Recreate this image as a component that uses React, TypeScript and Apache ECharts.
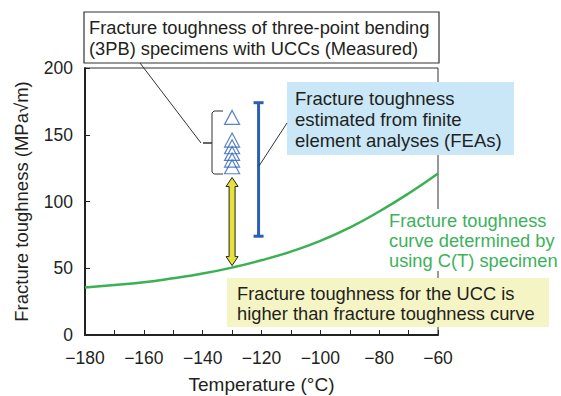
import React, { useEffect, useRef } from "react";
import * as echarts from "echarts";

// Fracture toughness curve (C(T) specimens)
const CURVE_T = [-180, -170, -160, -150, -140, -130, -120, -110, -100, -90, -80, -70, -60];
const CURVE_K = [35.5, 37.5, 39.5, 42.5, 46, 50.5, 56, 62.5, 70.5, 80.5, 92.5, 106, 121];

// 3PB measured values (triangles)
const PB_T = -130;
const PB_K = [163, 146, 141, 136, 131, 126];

// FEA range bar
const FEA_T = -121;
const FEA_LO = 74;
const FEA_HI = 174;

// Yellow double arrow
const ARROW_T = -130;
const ARROW_LO = 52;
const ARROW_HI = 118;

const X_MIN = -180;
const X_MAX = -60;
const Y_MIN = 0;
const Y_MAX = 200;

const FONT = '"Liberation Sans", Arial, Helvetica, sans-serif';
const TXT = "#231f20";

export default function App() {
  const ref = useRef<HTMLDivElement>(null);
  useEffect(() => {
    if (!ref.current) return;
    const chart = echarts.init(ref.current, undefined, { renderer: "svg" });
    const option: any = {
      animation: false,
      backgroundColor: "#ffffff",
      textStyle: { fontFamily: FONT },
      grid: {
        left: 85,
        right: 123,
        top: 68,
        bottom: 61,
        containLabel: false,
        outerBoundsMode: "none",
        show: true,
        borderColor: "#333",
        borderWidth: 1,
        backgroundColor: "transparent",
      },
      xAxis: {
        type: "value",
        min: X_MIN,
        max: X_MAX,
        interval: 10,
        name: "Temperature (°C)",
        nameLocation: "middle",
        nameGap: 40,
        nameTextStyle: { fontSize: 19, color: TXT, fontFamily: FONT },
        axisLine: { show: true, onZero: false, lineStyle: { color: "#222", width: 2 } },
        axisTick: { show: true, inside: true, length: 5, lineStyle: { color: "#222", width: 1 } },
        axisLabel: {
          fontSize: 17.5,
          color: TXT,
          fontFamily: FONT,
          margin: 14,
          formatter: (v: number) => (Math.abs(v) % 20 === 0 ? "\u2212" + Math.abs(v) : ""),
        },
        splitLine: { show: false },
      },
      yAxis: {
        type: "value",
        min: Y_MIN,
        max: Y_MAX,
        interval: 50,
        name: "Fracture toughness (MPa\u221Am)",
        nameLocation: "middle",
        nameGap: 54,
        nameTextStyle: { fontSize: 18.5, color: TXT, fontFamily: FONT },
        axisLine: { show: true, onZero: false, lineStyle: { color: "#222", width: 2 } },
        axisTick: { show: true, inside: true, length: 5, lineStyle: { color: "#222", width: 1 } },
        axisLabel: { fontSize: 17.5, color: TXT, fontFamily: FONT, margin: 12 },
        splitLine: { show: false },
      },
      series: [
        {
          type: "line",
          data: CURVE_T.map((t, i) => [t, CURVE_K[i]]),
          smooth: true,
          showSymbol: false,
          symbol: "none",
          lineStyle: { color: "#3bb154", width: 2.5 },
          z: 3,
        },
        {
          type: "scatter",
          data: PB_K.map((k) => [PB_T, k]),
          symbol: "triangle",
          symbolSize: [15, 14],
          itemStyle: { color: "rgba(255,255,255,0)", borderColor: "#2f62b8", borderWidth: 1.2 },
          z: 4,
        },
        {
          type: "custom",
          data: [[FEA_T, FEA_LO, FEA_HI]],
          encode: { x: 0, y: [1, 2] },
          renderItem: (_p: any, api: any) => {
            const x = api.value(0);
            const lo = api.coord([x, api.value(1)]);
            const hi = api.coord([x, api.value(2)]);
            const hw = 5;
            const st = { stroke: "#2d5fb0", lineWidth: 3 };
            return {
              type: "group",
              children: [
                { type: "line", shape: { x1: lo[0], y1: lo[1], x2: hi[0], y2: hi[1] }, style: st },
                { type: "line", shape: { x1: lo[0] - hw, y1: lo[1], x2: lo[0] + hw, y2: lo[1] }, style: st },
                { type: "line", shape: { x1: hi[0] - hw, y1: hi[1], x2: hi[0] + hw, y2: hi[1] }, style: st },
              ],
            };
          },
          z: 4,
        },
        {
          type: "custom",
          data: [[ARROW_T, ARROW_LO, ARROW_HI]],
          encode: { x: 0, y: [1, 2] },
          renderItem: (_p: any, api: any) => {
            const x = api.value(0);
            const lo = api.coord([x, api.value(1)]);
            const hi = api.coord([x, api.value(2)]);
            const cx = lo[0];
            const yt = hi[1];
            const yb = lo[1];
            const sw = 3;
            const hw = 6;
            const hl = 9;
            return {
              type: "polygon",
              shape: {
                points: [
                  [cx, yt],
                  [cx + hw, yt + hl],
                  [cx + sw, yt + hl],
                  [cx + sw, yb - hl],
                  [cx + hw, yb - hl],
                  [cx, yb],
                  [cx - hw, yb - hl],
                  [cx - sw, yb - hl],
                  [cx - sw, yt + hl],
                  [cx - hw, yt + hl],
                ],
              },
              style: { fill: "#e8e13a", stroke: "#222", lineWidth: 1 },
            };
          },
          z: 5,
        },
      ],
      graphic: [
        // Top annotation box
        {
          type: "rect",
          z: 100,
          shape: { x: 84, y: 12, width: 355, height: 51 },
          style: { fill: "#ffffff", stroke: "#333", lineWidth: 1.2 },
        },
        {
          type: "text",
          z: 101,
          x: 89,
          y: 16.5,
          style: {
            text: "Fracture toughness of three-point bending\n(3PB) specimens with UCCs (Measured)",
            font: `18.3px ${FONT}`,
            fill: TXT,
            lineHeight: 21,
            verticalAlign: "top",
          },
        },
        {
          type: "line",
          z: 100,
          shape: { x1: 140, y1: 63, x2: 201, y2: 143 },
          style: { stroke: "#333", lineWidth: 1 },
        },
        {
          type: "line",
          z: 100,
          shape: { x1: 203, y1: 143, x2: 212, y2: 143 },
          style: { stroke: "#333", lineWidth: 1.5 },
        },
        {
          type: "polyline",
          z: 100,
          shape: {
            points: [
              [223, 111],
              [214, 111],
              [212, 113],
              [212, 172],
              [214, 174],
              [223, 174],
            ],
          },
          style: { stroke: "#333", lineWidth: 1, fill: null },
        },
        // Blue annotation box
        {
          type: "rect",
          z: 100,
          shape: { x: 287, y: 82, width: 227, height: 73 },
          style: { fill: "#c9e7f7" },
        },
        {
          type: "text",
          z: 101,
          x: 295,
          y: 87.5,
          style: {
            text: "Fracture toughness\nestimated from finite\nelement analyses (FEAs)",
            font: `18.5px ${FONT}`,
            fill: TXT,
            lineHeight: 21,
            verticalAlign: "top",
          },
        },
        {
          type: "line",
          z: 100,
          shape: { x1: 287, y1: 123, x2: 259, y2: 166 },
          style: { stroke: "#333", lineWidth: 1 },
        },
        // Green label
        {
          type: "rect",
          z: 100,
          shape: { x: 386, y: 209, width: 175, height: 62 },
          style: { fill: "#ffffff" },
        },
        {
          type: "text",
          z: 101,
          x: 389,
          y: 210,
          style: {
            text: "Fracture toughness\ncurve determined by\nusing C(T) specimen",
            font: `18.3px ${FONT}`,
            fill: "#3cb25a",
            lineHeight: 20,
            verticalAlign: "top",
          },
        },
        // Yellow box
        {
          type: "rect",
          z: 100,
          shape: { x: 227, y: 278, width: 322, height: 49 },
          style: { fill: "#f5f4c4" },
        },
        {
          type: "text",
          z: 101,
          x: 237,
          y: 283,
          style: {
            text: "Fracture toughness for the UCC is\nhigher than fracture toughness curve",
            font: `18.3px ${FONT}`,
            fill: TXT,
            lineHeight: 20,
            verticalAlign: "top",
          },
        },
      ],
    };
    chart.setOption(option);
    return () => chart.dispose();
  }, []);
  return (
    <div
      ref={ref}
      style={{ position: "fixed", left: 0, top: 0, width: 561, height: 396, background: "#fff" }}
    />
  );
}
